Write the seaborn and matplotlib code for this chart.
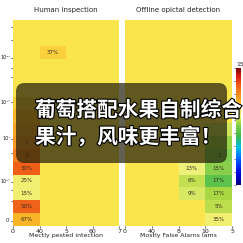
import numpy as np
import matplotlib
matplotlib.use("Agg")
import matplotlib.pyplot as plt
import seaborn as sns
from matplotlib.colors import LinearSegmentedColormap, Normalize
from matplotlib.cm import ScalarMappable
from matplotlib.patches import FancyBboxPatch
import matplotlib.patheffects as pe

# ---------------- data ----------------
panel_titles = ["Human inspection", "Offline opictal detection"]
x_labels = ["Mectly pested intection", "Mostly False Alarns lams"]
left_xticklabels = ["0", "40", "5", "60", "7"]
right_xticklabels = ["0", "40", "8", "10", "5"]
y_ticklabels = ["10\u2074\u1d5b", "10\u2077'", "10\u00b9", "10\u2070'", "0'"]

Y = 9.3  # background level
left_vals = [
    [Y, Y, Y, Y],
    [Y, Y, Y, Y],
    [Y, 9.8, Y, Y],
    [Y, Y, Y, Y],
    [Y, Y, Y, Y],
    [Y, Y, Y, Y],
    [10.0, Y, Y, Y],
    [10.5, Y, Y, Y],
    [11.0, Y, Y, Y],
    [11.25, Y, Y, Y],
    [12.0, Y, Y, Y],
    [12.75, Y, Y, Y],
    [8.9, Y, Y, Y],
    [8.9, Y, Y, Y],
    [12.7, Y, Y, Y],
    [10.6, Y, Y, Y],
]
left_annot = [
    ["", "", "", ""],
    ["", "", "", ""],
    ["", "37%", "", ""],
    ["", "", "", ""],
    ["", "", "", ""],
    ["", "", "", ""],
    ["", "", "", ""],
    ["", "", "", ""],
    ["", "", "", ""],
    ["1", "", "", ""],
    ["3", "", "", ""],
    ["30%", "", "", ""],
    ["25%", "", "", ""],
    ["15%", "", "", ""],
    ["50%", "", "", ""],
    ["67%", "", "", ""],
]
right_vals = [
    [Y, Y, Y, Y],
    [Y, Y, Y, Y],
    [Y, Y, Y, Y],
    [Y, Y, Y, Y],
    [Y, Y, Y, Y],
    [Y, Y, Y, Y],
    [Y, Y, Y, Y],
    [Y, Y, Y, Y],
    [Y, Y, Y, 8.4],
    [Y, Y, Y, 7.8],
    [Y, Y, Y, 7.5],
    [Y, Y, 8.78, 7.65],
    [Y, Y, 8.3, 6.9],
    [Y, Y, 8.5, 8.0],
    [Y, Y, Y, 8.25],
    [Y, Y, Y, 8.85],
]
right_annot = [
    ["", "", "", ""],
    ["", "", "", ""],
    ["", "", "", ""],
    ["", "", "", ""],
    ["", "", "", ""],
    ["", "", "", ""],
    ["", "", "", ""],
    ["", "", "", ""],
    ["", "", "", ""],
    ["", "", "", ""],
    ["", "", "", "1"],
    ["", "", "13%", "15%"],
    ["", "", "6%", "17%"],
    ["", "", "9%", "17%"],
    ["", "", "", "5%"],
    ["", "", "", "35%"],
]
caption_lines = ["葡萄搭配水果自制综合", "果汁，风味更丰富！"]
cbar_top_label = "15"
vmin, vmax = 0, 15

# ---------------- style ----------------
sns.set_theme(style="white")
plt.rcParams["font.family"] = ["DejaVu Sans"]

nodes = [
    (0.00, "#00007f"), (0.10, "#0000e0"), (0.22, "#0060ff"), (0.32, "#00c0e8"),
    (0.42, "#40b848"), (0.50, "#7ccc50"), (0.54, "#b0da40"), (0.585, "#eef07a"),
    (0.62, "#fbe54c"), (0.70, "#f8b828"), (0.78, "#f58a20"), (0.86, "#ee5a18"),
    (0.93, "#d81c10"), (1.00, "#800000"),
]
cmap = LinearSegmentedColormap.from_list("jetlike", nodes)

W = H = 243
fig = plt.figure(figsize=(2.43, 2.43), dpi=100)

def fr(x0, y0, x1, y1):
    return [x0 / W, 1 - y1 / H, (x1 - x0) / W, (y1 - y0) / H]

ax_l = fig.add_axes(fr(13, 20, 119, 226))
ax_r = fig.add_axes(fr(125, 20, 232, 226))
cax = fig.add_axes(fr(236, 68, 241, 185))

annot_kws = dict(fontsize=4, color="#3a3020")
for ax, vals, ann, title, xl, xt in [
    (ax_l, left_vals, left_annot, panel_titles[0], x_labels[0], left_xticklabels),
    (ax_r, right_vals, right_annot, panel_titles[1], x_labels[1], right_xticklabels),
]:
    sns.heatmap(np.array(vals), ax=ax, cmap=cmap, vmin=vmin, vmax=vmax, cbar=False,
                annot=np.array(ann), fmt="", annot_kws=annot_kws, linewidths=0)
    ax.set_title(title, fontsize=5, pad=5.5, color="#222")
    ax.set_xticks(np.arange(5))
    ax.set_xticklabels(xt, fontsize=4.5, rotation=0, color="#222")
    ax.set_xlabel(xl, fontsize=4.5, labelpad=-0.5, color="#222")
    ax.tick_params(axis="x", length=1.5, width=0.5, pad=0.5, bottom=True)

ax_l.set_yticks([2.95, 6.37, 9.24, 12.58, 15.6])
ax_l.set_yticklabels(y_ticklabels, fontsize=3.5, rotation=0, color="#222")
ax_l.set_yticks([0.54, 1.55, 3.7, 4.4, 10.3, 13.2, 14.06], minor=True)
ax_l.tick_params(axis="y", which="both", length=1.6, width=0.5, pad=0.3, left=True)
ax_r.set_yticks([])

sm = ScalarMappable(norm=Normalize(vmin, vmax), cmap=cmap)
cb = fig.colorbar(sm, cax=cax)
cb.outline.set_visible(False)
cb.set_ticks(np.linspace(vmin, vmax, 10))
cb.ax.tick_params(length=1.2, width=0.4, labelright=False, labelleft=False, left=True, right=False)
fig.text(236 / W, 1 - 65 / H, cbar_top_label, fontsize=4.5, ha="left", va="center")

# caption overlay
box = FancyBboxPatch((16 / W, 1 - 163 / H), (227 - 16) / W, (163 - 83) / H,
                     boxstyle="round,pad=0,rounding_size=0.035",
                     transform=fig.transFigure, facecolor="#1e1c0a", alpha=0.7,
                     edgecolor="none", zorder=10)
fig.patches.append(box)
for line, yc in zip(caption_lines, [110, 137]):
    fig.text(35 / W, 1 - yc / H, line, fontsize=14.9, fontweight="bold",
             family=["Noto Sans CJK SC", "DejaVu Sans"], color="white",
             ha="left", va="center", zorder=11,
             path_effects=[pe.withStroke(linewidth=1.6, foreground="black")])

fig.savefig("out.png", dpi=100)
